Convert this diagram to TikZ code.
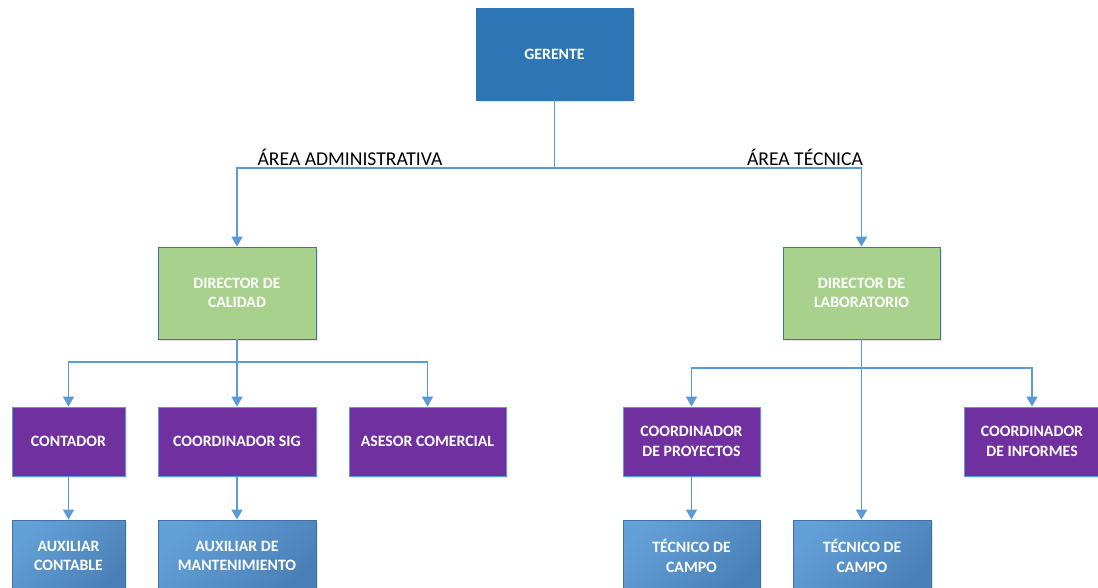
\documentclass[tikz,border=0pt]{standalone}
\usepackage{fontspec}
\setmainfont{Carlito}
\usetikzlibrary{arrows.meta,shadows}
\definecolor{gblue}{HTML}{2E75B6}
\definecolor{ggreen}{HTML}{A9D18E}
\definecolor{gpurple}{HTML}{7030A0}
\definecolor{lblue}{HTML}{5B9BD5}
\definecolor{dblue}{HTML}{4A80B8}
\definecolor{bord}{HTML}{41719C}
\definecolor{conn}{HTML}{5B9BD5}
\tikzset{
  box/.style={draw=bord, line width=0.8pt, text=white, align=center,
    font=\fontsize{15.8}{19.5}\selectfont\bfseries, inner sep=2pt,
    drop shadow={opacity=0.18, shadow xshift=1.5pt, shadow yshift=-2pt}},
  topbox/.style={box, fill=gblue, draw=gblue, minimum width=157pt, minimum height=92pt},
  dirbox/.style={box, fill=ggreen, minimum width=158pt, minimum height=92pt},
  purbox/.style={box, fill=gpurple, draw=lblue, minimum height=69pt},
  bluebox/.style={box, top color=lblue!95!white, bottom color=dblue, shading angle=45, minimum height=72pt},
  link/.style={draw=conn, line width=1.6pt},
  arr/.style={link, -{Triangle[width=11pt,length=10pt]}},
  area/.style={font=\fontsize{19.6}{22}\selectfont, text=black}
}
\begin{document}
\begin{tikzpicture}[x=1pt,y=-1pt]
\useasboundingbox (0,0) rectangle (1098,587);
% nodes
\node[topbox] (ger) at (554.5,54) {GERENTE};
\node[dirbox] (dc) at (237,293) {DIRECTOR DE\\CALIDAD};
\node[dirbox, minimum width=157pt] (dl) at (861.5,293) {DIRECTOR DE\\LABORATORIO};
\node[purbox, minimum width=113pt] (cont) at (68.5,441.5) {CONTADOR};
\node[purbox, minimum width=158pt] (sig) at (237,441.5) {COORDINADOR SIG};
\node[purbox, minimum width=157pt] (ase) at (427.5,441.5) {ASESOR COMERCIAL};
\node[purbox, minimum width=137pt] (cp) at (691.5,441.5) {COORDINADOR\\DE PROYECTOS};
\node[purbox, minimum width=136pt] (ci) at (1032,441.5) {COORDINADOR\\DE INFORMES};
\node[bluebox, minimum width=113pt] (ac) at (68.5,556) {AUXILIAR\\CONTABLE};
\node[bluebox, minimum width=158pt] (am) at (237,556) {AUXILIAR DE\\MANTENIMIENTO};
\node[bluebox, minimum width=137pt] (t1) at (691.5,556) {TÉCNICO DE\\CAMPO};
\node[bluebox, minimum width=138pt] (t2) at (862,556) {TÉCNICO DE\\CAMPO};
% labels
\node[area] (la) at (350,157) {ÁREA ADMINISTRATIVA};
\node[area] (lt) at (805,157) {ÁREA TÉCNICA};
% junctions
\coordinate (j1) at (554.5,168);
\coordinate (j2) at (237,362);
\coordinate (j3) at (861.5,368);
% connectors
\draw[link] (ger.south) -- (j1);
\draw[arr] (j1) -| (dc.north);
\draw[arr] (j1) -| (dl.north);
\draw[arr] (dc.south) -- (sig.north);
\draw[arr] (j2) -| (cont.north);
\draw[arr] (j2) -| (ase.north);
\draw[arr] (dl.south) -- (dl.south|-t2.north);
\draw[arr] (j3) -| (cp.north);
\draw[arr] (j3) -| (ci.north);
\draw[arr] (cont.south) -- (ac.north);
\draw[arr] (sig.south) -- (am.north);
\draw[arr] (cp.south) -- (t1.north);
\end{tikzpicture}
\end{document}
